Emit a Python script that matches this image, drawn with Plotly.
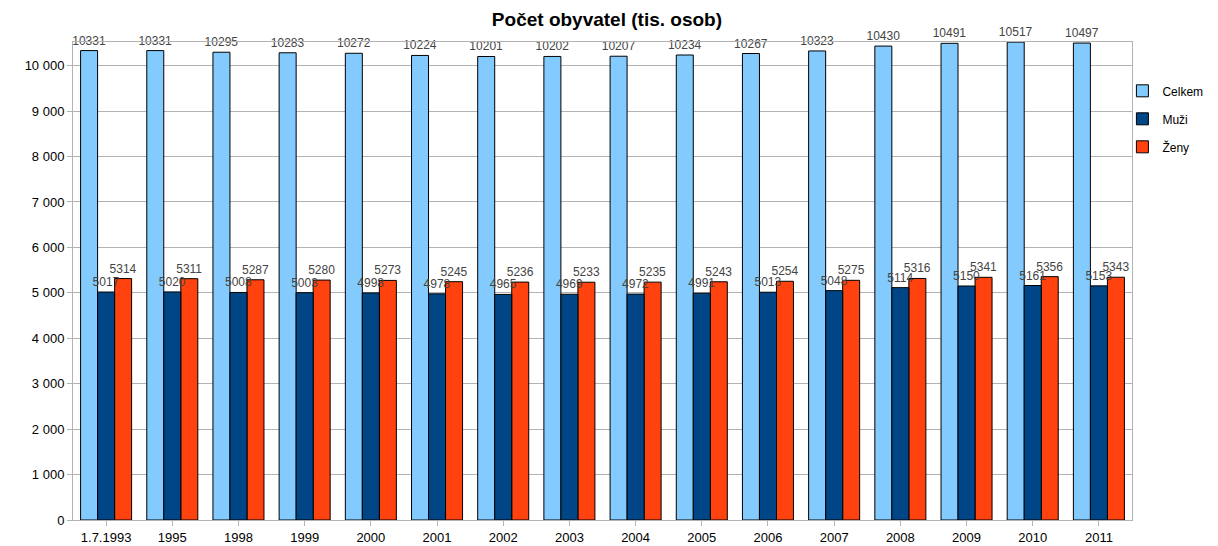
import plotly.graph_objects as go

years = ["1.7.1993", "1995", "1998", "1999", "2000", "2001", "2002", "2003",
         "2004", "2005", "2006", "2007", "2008", "2009", "2010", "2011"]
celkem = [10331, 10331, 10295, 10283, 10272, 10224, 10201, 10202,
          10207, 10234, 10267, 10323, 10430, 10491, 10517, 10497]
muzi = [5017, 5020, 5008, 5003, 4998, 4978, 4965, 4969,
        4972, 4991, 5013, 5048, 5114, 5150, 5161, 5153]
zeny = [5314, 5311, 5287, 5280, 5273, 5245, 5236, 5233,
        5235, 5243, 5254, 5275, 5316, 5341, 5356, 5343]

FONT = "Liberation Sans, Arial, sans-serif"
BW = 0.257

# (name, values, colour, offset within category, legend rank); Muži drawn last so its labels sit on top
series = [
    ("Celkem", celkem, "#83CAFF", -1.5 * BW, 1),
    ("Ženy", zeny, "#FF420E", 0.5 * BW, 3),
    ("Muži", muzi, "#004586", -0.5 * BW, 2),
]

fig = go.Figure()
for name, vals, col, off, rank in series:
    fig.add_trace(go.Bar(
        x=years, y=vals, name=name, legendrank=rank, legendgroup=name,
        width=BW, offset=off,
        marker=dict(color=col, line=dict(color="#000000", width=1)),
        text=[str(v) for v in vals], textposition="outside",
        textfont=dict(size=12, color="#444444", family=FONT),
        outsidetextfont=dict(size=12, color="#444444", family=FONT),
        constraintext="none", cliponaxis=False,
    ))

# page body has an 8px default margin, so the figure is 8px smaller and margins compensate
fig.update_layout(
    template="none",
    width=1210, height=538,
    barmode="overlay",
    separators=". ",
    paper_bgcolor="white", plot_bgcolor="white",
    font=dict(family=FONT, size=13, color="#000000"),
    title=dict(text="<b>Počet obyvatel (tis. osob)</b>", x=0.495, xanchor="center",
               y=0.978, yanchor="middle", font=dict(size=19, color="#000000")),
    margin=dict(l=65, r=86, t=34, b=26, autoexpand=False),
    showlegend=True,
    legend=dict(xref="container", yref="container", x=0.921, y=0.873,
                xanchor="left", yanchor="top", tracegroupgap=9,
                font=dict(size=12), itemwidth=30, bgcolor="rgba(0,0,0,0)"),
    xaxis=dict(type="category", showgrid=False, ticks="outside", ticklen=5,
               tickcolor="#b3b3b3", showline=True, linecolor="#b3b3b3", mirror=True,
               automargin=False, tickfont=dict(size=13)),
    yaxis=dict(range=[0, 10520], dtick=1000, tickformat=",d", showgrid=True,
               gridcolor="#b3b3b3", gridwidth=1, ticks="outside", ticklen=5,
               tickcolor="#b3b3b3", showline=True, linecolor="#b3b3b3", mirror=True,
               zeroline=False, automargin=False, tickfont=dict(size=13)),
)

fig.write_html("out.html")
